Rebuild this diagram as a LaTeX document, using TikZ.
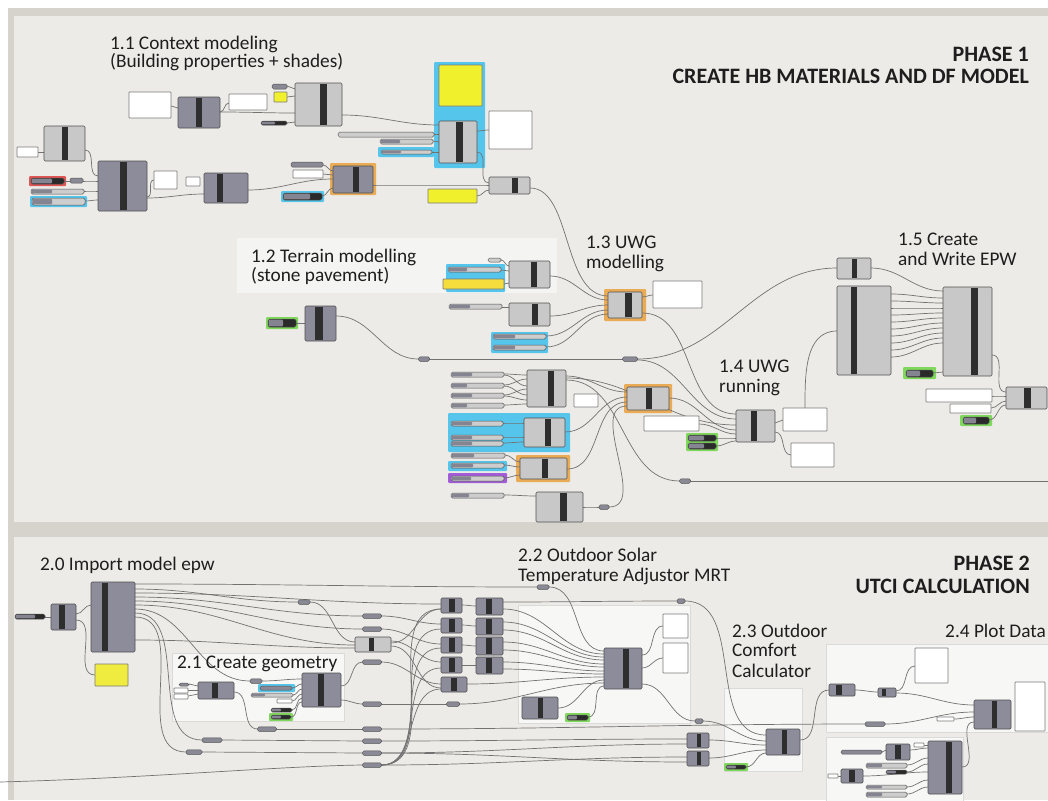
\documentclass[tikz,border=0pt]{standalone}
\usepackage{tikz}
\usepackage{fontspec}
\setmainfont{Carlito}
\pgfdeclarelayer{bg}
\pgfdeclarelayer{wires}
\pgfsetlayers{bg,wires,main}
\definecolor{compD}{HTML}{8D8C9B}
\definecolor{compL}{HTML}{C8C8C8}
\definecolor{barC}{HTML}{2E2E2E}
\definecolor{edgeC}{HTML}{505050}
\definecolor{wireC}{HTML}{727272}
\definecolor{sldD}{HTML}{858592}
\definecolor{sldL}{HTML}{CDCDCD}
\definecolor{sldK}{HTML}{2A2A2A}
\definecolor{relC}{HTML}{8A8A96}
\definecolor{blueG}{HTML}{56C5EC}
\definecolor{orangeG}{HTML}{E9AB55}
\definecolor{greenG}{HTML}{7FD85C}
\definecolor{redG}{HTML}{E05454}
\definecolor{purpleG}{HTML}{A35CD8}
\definecolor{yelA}{HTML}{F1F02C}
\definecolor{yelB}{HTML}{F4DD3C}
\definecolor{yelC}{HTML}{F0EB3F}
\definecolor{panE}{HTML}{7A7A7A}
\definecolor{grpC}{HTML}{F4F4F2}
\definecolor{grpW}{HTML}{F7F7F6}
\definecolor{grpE}{HTML}{DADAD8}
\definecolor{frameC}{HTML}{D6D2CC}
\definecolor{panelC}{HTML}{EDEBE7}
\definecolor{txtC}{HTML}{1E1E1E}
\tikzset{
  comp/.style={draw=edgeC,line width=0.6pt,rounded corners=1.2pt,inner sep=0pt,outer sep=0pt,anchor=north west},
  pan/.style={draw=panE,fill=white,line width=0.6pt,rounded corners=0.6pt,inner sep=0pt,outer sep=0pt,anchor=north west},
  sld/.style={draw=edgeC,line width=0.5pt,rounded corners=1.6pt,inner sep=0pt,outer sep=0pt,anchor=north west},
  pill/.style={sld,fill=relC},
  relay/.style={draw=edgeC,fill=relC,line width=0.5pt,rounded corners=1.6pt,inner sep=0pt,outer sep=0pt,anchor=center},
  wire/.style={draw=wireC,line width=0.7pt},
  lab/.style={font=\fontsize{19.3}{19.3}\selectfont,text=txtC,inner sep=0pt,anchor=base west},
  phase/.style={font=\bfseries\fontsize{22}{22}\selectfont,text=txtC,inner sep=0pt,anchor=base east}
}
\newcommand\gbx[6][]{\node[#1,minimum width={(#5)-(#3)},minimum height={(#6)-(#4)}] (#2) at (#3,#4) {};}
\newcommand\gcp[8][compD]{\gbx[comp,fill=#1]{#2}{#3}{#4}{#5}{#6}\fill[barC] (#7,#4+0.7) rectangle (#8,#6-0.7);}
\newcommand\gsd[7]{\gbx[sld,fill=#7]{#1}{#2}{#3}{#4}{#5}\fill[sldD,rounded corners=1pt] (#2+0.6,#3+0.6) rectangle (#6,#5-0.6);}
\newcommand\gry[4]{\node[relay,minimum width=#4,minimum height=4.5] (#1) at (#2,#3) {};}
\newcommand\ghl[5]{\fill[#1,rounded corners=1pt] (#2,#3) rectangle (#4,#5);}
\newcommand\gwr[5][]{\draw[wire,#1] (#2.east |- 0,#3) to[out=0,in=180] (#4.west |- 0,#5);}
\begin{document}
\begin{tikzpicture}[x=1pt,y=-1pt]
\useasboundingbox (0,0) rectangle (1048,800);
\begin{pgfonlayer}{bg}
\fill[white] (0,0) rectangle (1048,800);
\fill[frameC] (8,8) rectangle (1048,800);
\fill[panelC] (14,16) rectangle (1048,522);
\fill[panelC] (14,537) rectangle (1048,800);
% phase 1 groups
\fill[grpC] (237,238) rectangle (557,293);
\ghl{blueG}{434}{62}{485}{168}
\ghl{blueG}{378}{147}{434}{157}
\ghl{redG}{29}{176}{66}{186}
\ghl{blueG}{30}{196}{87}{207}
\ghl{orangeG}{330}{163}{376}{195}
\ghl{blueG}{281}{191}{324}{202}
\ghl{blueG}{446}{264}{505}{292}
\ghl{blueG}{491}{332}{548}{353}
\ghl{orangeG}{604}{289}{646}{321}
\ghl{orangeG}{624}{384}{672}{413}
\ghl{blueG}{448}{413}{570}{452}
\ghl{blueG}{448}{461}{507}{471}
\ghl{purpleG}{448}{473}{507}{483}
\ghl{orangeG}{516}{455}{570}{482}
\ghl{greenG}{686}{433}{718}{451}
\ghl{greenG}{903}{367}{936}{379}
\ghl{greenG}{960}{415}{992}{426}
\ghl{greenG}{266}{317}{298}{329}
% phase 2 groups
\filldraw[fill=grpW,draw=grpE] (172,653) rectangle (344,721);
\filldraw[fill=grpW,draw=grpE] (518,605) rectangle (690,723);
\filldraw[fill=grpW,draw=grpE] (724,688) rectangle (802,771);
\filldraw[fill=grpW,draw=grpE] (826,644) rectangle (1048,732);
\filldraw[fill=grpW,draw=grpE] (826,737) rectangle (963,801);
\ghl{blueG}{258}{684}{295}{692}
\ghl{greenG}{269}{713}{293}{721}
\ghl{greenG}{565}{713}{590}{722}
\ghl{greenG}{724}{763}{748}{771}
\end{pgfonlayer}
% ---------- labels
\node[lab] (l11a) at (110,49) {1.1 Context modeling};
\node[lab] (l11b) at (110,67) {(Building properties + shades)};
\node[phase] (ph1a) at (1029,62) {PHASE 1};
\node[phase] (ph1b) at (1029,83) {CREATE HB MATERIALS AND DF MODEL};
\node[lab] (l12a) at (251,262) {1.2 Terrain modelling};
\node[lab] (l12b) at (251,281) {(stone pavement)};
\node[lab] (l13a) at (586,248) {1.3 UWG};
\node[lab] (l13b) at (586,268) {modelling};
\node[lab] (l15a) at (898,245) {1.5 Create};
\node[lab] (l15b) at (898,265) {and Write EPW};
\node[lab] (l14a) at (719,372) {1.4 UWG};
\node[lab] (l14b) at (719,392) {running};
\node[lab] (l20) at (40,570) {2.0 Import model epw};
\node[lab] (l21) at (177,668) {2.1 Create geometry};
\node[lab] (l22a) at (518,561) {2.2 Outdoor Solar};
\node[lab] (l22b) at (518,581) {Temperature Adjustor MRT};
\node[phase] (ph2a) at (1030,570) {PHASE 2};
\node[phase] (ph2b) at (1030,593) {UTCI CALCULATION};
\node[lab] (l23a) at (732,637) {2.3 Outdoor};
\node[lab] (l23b) at (732,656) {Comfort};
\node[lab] (l23c) at (732,677) {Calculator};
\node[lab] (l24) at (945,637) {2.4 Plot Data};
% ---------- phase 1 components
\gcp{c11a}{178}{97}{220}{128}{196}{202}
\gcp[compL]{c11b}{295}{83}{342}{126}{320}{327}
\gcp[compL]{c11c}{439}{121}{477}{163}{456}{463}
\gcp[compL]{c11d}{44}{126}{85}{161}{62}{68}
\gcp{c11e}{98}{161}{147}{211}{120}{127}
\gcp{c11f}{204}{173}{248}{203}{217}{223}
\gcp{c11g}{333}{166}{373}{193}{353}{359}
\gcp[compL]{c11h}{489}{177}{530}{194}{512}{518}
\gcp[compL]{c12a}{509}{261}{550}{288}{531}{537}
\gcp[compL]{c12b}{509}{303}{550}{326}{532}{538}
\gcp{c12t}{305}{306}{336}{341}{315}{323}
\gcp[compL]{c13}{608}{292}{642}{318}{625}{632}
\gcp[compL]{c14a}{527}{370}{566}{407}{548}{554}
\gcp[compL]{c14b}{524}{418}{565}{447}{545}{551}
\gcp[compL]{c14c}{627}{387}{669}{410}{646}{652}
\gcp[compL]{c14d}{520}{458}{567}{479}{542}{548}
\gcp[compL]{c14e}{536}{492}{583}{522}{560}{567}
\gcp[compL]{c14}{736}{410}{775}{442}{751}{757}
\gcp[compL]{c15a}{837}{258}{871}{279}{852}{857}
\gcp[compL]{c15b}{837}{286}{891}{375}{851}{857}
\gcp[compL]{c15c}{943}{287}{992}{376}{971}{978}
\gcp[compL]{c15d}{1006}{387}{1047}{409}{1024}{1031}
% panels
\gbx[pan]{p1}{129}{92}{171}{118}
\gbx[pan]{p2}{229}{94}{267}{110}
\gbx[pan,fill=yelA]{p3}{274}{92}{287}{102}
\gbx[pan,fill=yelA]{p4}{439}{65}{482}{106}
\gbx[pan]{p5}{489}{111}{532}{149}
\gbx[pan]{p6}{17}{147}{38}{157}
\gbx[pan]{p7}{154}{171}{177}{189}
\gbx[pan]{p8}{186}{177}{200}{186}
\gbx[pan]{p9}{293}{170}{323}{178}
\gbx[pan,fill=yelA]{p10}{428}{189}{477}{203}
\gbx[pan,fill=yelB]{p11}{443}{279}{504}{289}
\gbx[pan]{p12}{653}{281}{702}{308}
\gbx[pan]{p13}{574}{394}{598}{407}
\gbx[pan]{p14}{644}{416}{699}{431}
\gbx[pan]{p15}{783}{408}{827}{431}
\gbx[pan]{p16}{791}{443}{834}{467}
\gbx[pan]{p17}{926}{389}{992}{402}
\gbx[pan]{p18}{950}{404}{991}{413}
\gbx[sld,fill=sldL]{lb1}{338}{132}{434}{137}
% sliders
\gbx[pill]{s1}{272}{84}{287}{89}
\gsd{s2}{261}{121}{287}{125}{275}{sldK}
\gsd{s3}{380}{139}{433}{144}{400}{sldL}
\gsd{s4}{381}{150}{432}{154}{401}{sldL}
\gsd{s5}{31}{178}{64}{184}{52}{sldK}
\gbx[pill]{s6}{70}{178}{83}{183}
\gsd{s7}{31}{189}{84}{194}{52}{sldL}
\gsd{s8}{32}{198}{85}{205}{52}{sldL}
\gbx[pill]{s9}{291}{162}{323}{167}
\gsd{s10}{283}{193}{322}{200}{310}{sldK}
\gbx[pill,fill=sldL]{s11}{488}{258}{501}{262}
\gsd{s12}{448}{267}{501}{272}{467}{sldL}
\gsd{s13}{449}{304}{502}{309}{470}{sldL}
\gsd{s14}{493}{334}{546}{339}{515}{sldL}
\gsd{s15}{493}{345}{546}{350}{515}{sldL}
\gsd{s16}{451}{372}{504}{377}{472}{sldL}
\gsd{s17}{451}{383}{504}{388}{467}{sldL}
\gsd{s18}{451}{393}{504}{398}{472}{sldL}
\gsd{s19}{451}{403}{504}{408}{467}{sldL}
\gsd{s20}{451}{421}{503}{426}{472}{sldL}
\gsd{s21}{451}{435}{503}{440}{472}{sldL}
\gsd{s22}{451}{441}{503}{446}{472}{sldL}
\gsd{s23}{451}{453}{505}{458}{474}{sldL}
\gsd{s24}{451}{463}{504}{468}{473}{sldL}
\gsd{s25}{451}{476}{504}{481}{471}{sldL}
\gsd{s26}{451}{493}{504}{498}{469}{sldL}
\gsd{s27}{688}{435}{716}{441}{704}{sldK}
\gsd{s28}{688}{443}{716}{449}{704}{sldK}
\gsd{s29}{906}{370}{933}{377}{920}{sldK}
\gsd{s30}{963}{417}{989}{424}{976}{sldK}
\gsd{st}{268}{319}{296}{327}{283}{sldK}
\gry{r1}{424}{359}{11}
\gry{r2}{630}{359}{15}
\gry{r3}{685}{481}{11}
\gry{r4}{604}{507}{10}
\coordinate (e1) at (1048,481);
% ---------- phase 2 components
\gcp{d1}{51}{604}{76}{630}{59}{65}
\gcp{d2}{91}{582}{135}{652}{102}{108}
\gcp[compL]{d3}{355}{637}{391}{652}{369}{374}
\gcp{k1}{441}{598}{462}{613}{449}{455}
\gcp{k2}{441}{618}{462}{633}{449}{455}
\gcp{k3}{441}{637}{462}{653}{449}{455}
\gcp{k4}{441}{657}{462}{673}{449}{455}
\gcp{k5}{441}{677}{467}{692}{451}{457}
\gcp{m1}{476}{598}{503}{615}{486}{492}
\gcp{m2}{476}{618}{503}{635}{486}{492}
\gcp{m3}{476}{637}{503}{655}{486}{492}
\gcp{m4}{476}{657}{503}{674}{486}{492}
\gcp{g1}{198}{682}{234}{699}{212}{218}
\gcp{g2}{302}{673}{341}{707}{318}{324}
\gcp{t1}{604}{648}{642}{689}{623}{629}
\gcp{t2}{522}{697}{558}{719}{538}{543}
\gcp{n1}{687}{733}{709}{748}{697}{701}
\gcp{n2}{687}{751}{709}{766}{697}{701}
\gcp{u1}{766}{729}{800}{755}{782}{787}
\gcp{v1}{829}{684}{855}{696}{836}{842}
\gcp{v2}{878}{688}{896}{697}{882}{886}
\gcp{v3}{974}{700}{1011}{729}{992}{997}
\gcp{w1}{928}{741}{962}{794}{946}{952}
\gcp{w2}{886}{744}{910}{760}{895}{901}
\gcp{w3}{841}{769}{863}{783}{849}{855}
\gbx[pan,fill=yelC]{y20}{95}{664}{128}{686}
\gbx[pan]{pa}{174}{688}{188}{693}
\gbx[pan]{pb}{174}{694}{188}{699}
\gbx[pan]{pc}{277}{699}{292}{703}
\gbx[pan]{pd}{663}{614}{688}{638}
\gbx[pan]{pe}{663}{643}{688}{673}
\gbx[pan]{pf}{915}{648}{948}{683}
\gbx[pan]{pg}{1015}{682}{1045}{731}
\gbx[pan]{ph}{937}{717}{954}{721}
\gbx[pan]{pi}{914}{743}{924}{747}
\gbx[pan]{pj}{828}{774}{838}{778}
\gsd{q1}{15}{614}{45}{619}{35}{sldK}
\gbx[pill]{q0}{179}{683}{189}{686}
\gbx[pill]{q2}{260}{686}{292}{690}
\gsd{q3}{251}{693}{293}{697}{265}{sldL}
\gsd{q4}{271}{708}{292}{712}{281}{sldK}
\gsd{q5}{271}{715}{291}{719}{281}{sldK}
\gsd{q6}{567}{715}{588}{720}{577}{sldK}
\gsd{q7}{726}{765}{746}{769}{736}{sldK}
\gbx[pill]{lb2}{841}{750}{882}{754}
\gsd{q8}{866}{763}{907}{768}{882}{sldL}
\gsd{q9}{886}{770}{907}{774}{896}{sldK}
\gsd{q10}{866}{785}{907}{789}{882}{sldL}
\gsd{q11}{866}{792}{907}{797}{882}{sldL}
\gry{ra}{304}{602}{12}
\gry{rb}{372}{616}{19}
\gry{rc}{372}{629}{19}
\gry{rd}{372}{662}{19}
\gry{re}{372}{704}{19}
\gry{rf}{372}{729}{19}
\gry{rg}{372}{741}{19}
\gry{rh}{372}{753}{19}
\gry{ri}{372}{765}{19}
\gry{rj}{256}{681}{12}
\gry{rk}{267}{729}{19}
\gry{rl}{212}{740}{20}
\gry{rm}{194}{752}{16}
\gry{rn}{453}{704}{13}
\gry{ro}{543}{587}{12}
\gry{rp}{681}{601}{8}
\gry{rq}{699}{721}{8}
\gry{rr}{875}{724}{20}
\coordinate (e2) at (0,782);
% ---------- wires
\begin{pgfonlayer}{wires}
\gwr{p1}{106}{c11a}{108}
\gwr{c11a}{112}{p2}{103}
\gwr{c11a}{112}{c11b}{113}
\gwr{s1}{86}{c11b}{89}
\gwr{p3}{97}{c11b}{96}
\gwr{s2}{123}{c11b}{122}
\gwr{c11b}{115}{c11c}{125}
\gwr{lb1}{134}{c11c}{134}
\gwr{s3}{141}{c11c}{142}
\gwr{s4}{152}{c11c}{152}
\gwr{c11c}{131}{p5}{130}
\gwr{c11c}{152}{c11h}{183}
\gwr{p10}{196}{c11h}{190}
\gwr{p6}{152}{c11d}{152}
\gwr{c11d}{150}{c11e}{176}
\gwr{s5}{181}{s6}{181}
\gwr{s6}{181}{c11e}{181}
\gwr{s7}{191}{c11e}{191}
\gwr{s8}{201}{c11e}{200}
\gwr{c11e}{197}{p7}{180}
\gwr{c11e}{198}{c11f}{194}
\gwr{c11f}{190}{c11g}{179}
\gwr{s9}{165}{c11g}{171}
\gwr{p9}{174}{c11g}{175}
\gwr{s10}{196}{c11g}{188}
\gwr{c11g}{185}{c11h}{185}
\draw[wire] (c11h.east |- 0,188) .. controls (572,188) and (562,296) .. (c13.west |- 0,296);
\gwr{c12a}{276}{c13}{300}
\gwr{s11}{260}{c12a}{266}
\gwr{s12}{270}{c12a}{271}
\gwr{p11}{284}{c12a}{283}
\gwr{s13}{307}{c12b}{307}
\gwr{c12b}{316}{c13}{305}
\gwr{s14}{336}{c13}{310}
\gwr{s15}{347}{c13}{314}
\gwr{c13}{297}{p12}{295}
\gwr{c13}{313}{c14}{414}
\gwr{st}{323}{c12t}{323}
\gwr{c12t}{316}{r1}{359}
\draw[wire] (r1.east) -- (r2.west);
\gwr{r2}{359}{c15a}{268}
\gwr{r2}{360}{c14}{419}
\gwr{s16}{374}{c14a}{375}
\gwr{s16}{375}{c14a}{386}
\gwr{s17}{385}{c14a}{379}
\gwr{s17}{386}{c14a}{395}
\gwr{s18}{395}{c14a}{389}
\gwr{s18}{396}{c14a}{400}
\gwr{s19}{405}{c14a}{404}
\gwr{c14a}{376}{c14c}{392}
\gwr{c14a}{378}{c14}{425}
\gwr{c14a}{380}{r3}{481}
\gwr{s20}{423}{c14b}{423}
\gwr{s21}{437}{c14b}{437}
\gwr{s22}{443}{c14b}{442}
\gwr{c14b}{432}{c14c}{397}
\gwr{s23}{455}{c14d}{462}
\gwr{s24}{465}{c14d}{467}
\gwr{s25}{478}{c14d}{475}
\gwr{c14d}{469}{c14c}{402}
\gwr{s26}{495}{c14e}{496}
\gwr{c14e}{507}{r4}{507}
\gwr{r4}{507}{c14c}{406}
\gwr{c14c}{398}{c14}{430}
\gwr{p14}{424}{c14}{434}
\gwr{s27}{438}{c14}{438}
\gwr{s28}{446}{c14}{441}
\draw[wire] (r3.east) -- (e1);
\gwr{c14}{423}{p15}{420}
\gwr{c14}{432}{p16}{455}
\draw[wire] (p15.north) to[out=90,in=180] (c15b.west |- 0,331);
\gwr{c15a}{268}{c15c}{291}
\foreach \k [evaluate=\k as \ya using 294+7*\k, evaluate=\k as \yb using 298+5*\k] in {0,...,9}
  {\draw[wire] (c15b.east |- 0,\ya) to[out=0,in=180] (c15c.west |- 0,\yb);}
\gwr{s29}{373}{c15c}{372}
\gwr{c15c}{355}{c15d}{392}
\gwr{p17}{396}{c15d}{396}
\gwr{p18}{408}{c15d}{401}
\gwr{s30}{420}{c15d}{405}
% phase 2
\gwr{q1}{617}{d1}{617}
\gwr{d1}{614}{d2}{605}
\gwr{d1}{620}{y20}{675}
\gwr{d2}{584}{ro}{587}
\gwr{ro}{587}{t1}{651}
\gwr{d2}{589}{ra}{602}
\gwr{ra}{602}{d3}{642}
\gwr{d2}{593}{k1}{604}
\gwr{d2}{597}{rb}{616}
\gwr{d2}{601}{rc}{629}
\gwr{d2}{605}{d3}{645}
\gwr{d2}{640}{d3}{648}
\gwr{d2}{609}{rj}{681}
\gwr{d2}{613}{rl}{740}
\gwr{d2}{617}{rm}{752}
\gwr{rj}{681}{g2}{679}
\gwr{q0}{684}{g1}{686}
\gwr{pa}{690}{g1}{690}
\gwr{pb}{696}{g1}{694}
\gwr{g1}{692}{rk}{729}
\draw[wire] (rk.east) -- (rf.west);
\draw[wire] (rl.east) -- (rg.west);
\draw[wire] (rm.east) -- (rh.west);
\gwr{q2}{688}{g2}{684}
\gwr{q3}{695}{g2}{689}
\gwr{pc}{701}{g2}{694}
\gwr{q4}{710}{g2}{698}
\gwr{q5}{717}{g2}{702}
\gwr{g2}{686}{rd}{662}
\gwr{g2}{700}{re}{704}
\gwr{rd}{662}{k5}{684}
\draw[wire] (re.east) -- (rn.west);
\gwr{rn}{704}{t1}{683}
\gwr{rb}{616}{k2}{624}
\gwr{rc}{629}{k3}{644}
\gwr{d3}{641}{k4}{662}
\gwr{d3}{646}{k5}{688}
\gwr{d3}{643}{k1}{609}
\gwr{ri}{765}{k1}{609}
\gwr{ri}{765}{k2}{629}
\gwr{ri}{765}{k3}{648}
\gwr{ri}{765}{k4}{668}
\gwr{ri}{765}{k5}{689}
\draw[wire] (e2) .. controls (150,778) and (280,766) .. (ri.west);
\gwr{k1}{605}{m1}{606}
\gwr{k2}{625}{m2}{626}
\gwr{k3}{645}{m3}{646}
\gwr{k4}{665}{m4}{665}
\gwr{m1}{602}{rp}{601}
\gwr{rp}{601}{u1}{735}
\gwr{m1}{609}{t1}{654}
\gwr{m2}{622}{t1}{657}
\gwr{m2}{630}{t1}{660}
\gwr{m3}{642}{t1}{664}
\gwr{m3}{650}{t1}{667}
\gwr{m4}{662}{t1}{671}
\gwr{m4}{669}{t1}{674}
\gwr{k5}{684}{t1}{677}
\gwr{t2}{708}{t1}{680}
\gwr{q6}{717}{t1}{686}
\gwr{t1}{655}{pd}{626}
\gwr{t1}{668}{pe}{658}
\gwr{t1}{684}{rq}{721}
\gwr{rq}{721}{u1}{741}
\gwr{rf}{729}{rr}{724}
\gwr{rr}{724}{v3}{712}
\gwr{rg}{741}{n1}{739}
\gwr{rh}{753}{n1}{744}
\gwr{ri}{765}{n2}{757}
\gwr{rh}{753}{n2}{762}
\gwr{n1}{740}{u1}{745}
\gwr{n2}{758}{u1}{750}
\gwr{q7}{767}{u1}{753}
\gwr{u1}{740}{v1}{690}
\gwr{v1}{690}{v2}{692}
\gwr{v2}{691}{pf}{666}
\gwr{v2}{693}{v3}{705}
\gwr{ph}{719}{v3}{717}
\gwr{w1}{767}{v3}{722}
\gwr{lb2}{752}{w2}{750}
\gwr{w2}{750}{w1}{748}
\gwr{pi}{745}{w1}{745}
\gwr{q8}{765}{w1}{758}
\gwr{q9}{772}{w1}{764}
\gwr{pj}{776}{w3}{776}
\gwr{w3}{776}{w1}{772}
\gwr{q10}{787}{w1}{780}
\gwr{q11}{794}{w1}{787}
\end{pgfonlayer}
\end{tikzpicture}
\end{document}
